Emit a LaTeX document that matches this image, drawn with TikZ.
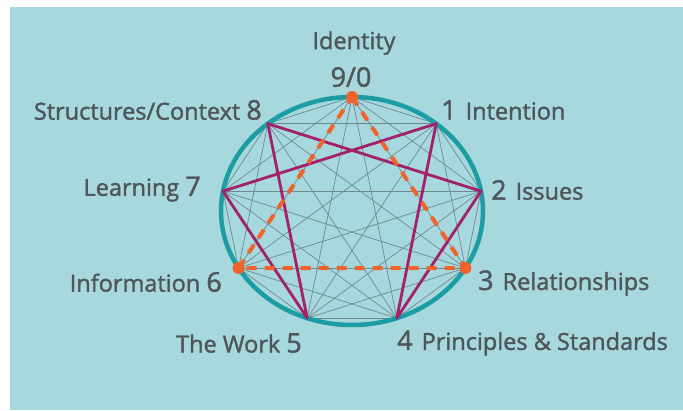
\documentclass[tikz,border=0pt]{standalone}
\usepackage{fontspec}
\setmainfont{Open Sans}
\newfontfamily\lblfont{Open Sans}[FakeBold=1.5]
\usetikzlibrary{calc}

\definecolor{bgteal}{HTML}{A7D8DD}
\definecolor{ringteal}{HTML}{1C9CA3}
\definecolor{hexad}{HTML}{A3206B}
\definecolor{triorange}{HTML}{F0642A}
\definecolor{chordgray}{HTML}{6A8A90}
\definecolor{labelgray}{HTML}{4F5659}

\newcommand{\numsize}{\fontsize{27}{29}\selectfont}

\tikzset{
  lbl/.style={text=labelgray, font=\lblfont\fontsize{23.5}{27}\selectfont, inner sep=0pt},
  chord/.style={chordgray, line width=0.7pt},
  ring/.style={ringteal, line width=4.5pt},
  hexline/.style={hexad, line width=2.8pt, line join=round},
  triline/.style={triorange, line width=4pt, dash pattern=on 10pt off 8pt},
  dot/.style={circle, fill=triorange, inner sep=0pt, minimum size=12pt}
}

\begin{document}
\begin{tikzpicture}[x=1pt, y=-1pt]
\useasboundingbox (0,0) rectangle (683,410);
\fill[bgteal] (10,7) rectangle (683,410);

% points of the circle, 0 at the top, clockwise
\coordinate (c) at (352,211);
\foreach \i in {0,...,8}
  \coordinate (p\i) at ({352+131*sin(40*\i)}, {211-114*cos(40*\i)});

% every chord
\foreach \i in {0,...,7} {
  \pgfmathtruncatemacro\k{\i+1}
  \foreach \j in {\k,...,8}
    \draw[chord] (p\i) -- (p\j);
}

\draw[ring] (c) ellipse (131 and 114);

% hexad 1-4-2-8-5-7
\draw[hexline] (p1) -- (p4) -- (p2) -- (p8) -- (p5) -- (p7) -- cycle;

% triangle 9-3-6
\draw[triline] (p0) -- (p3) -- (p6) -- cycle;
\node[dot] (d0) at (p0) {};
\node[dot] (d3) at (p3) {};
\node[dot] (d6) at (p6) {};

% labels
\node[lbl] (l9) at (354,43) {Identity};
\node[lbl] (n9) at (351,77) {\numsize 9/0};
\node[lbl, anchor=east] (l8) at (262,110) {Structures/Context {\numsize 8}};
\node[lbl, anchor=west] (l1) at (441,110) {{\numsize 1}\hspace{9pt}Intention};
\node[lbl, anchor=east] (l7) at (201,189) {Learning {\numsize 7}};
\node[lbl, anchor=west] (l2) at (491,190) {{\numsize 2}\hspace{9pt}Issues};
\node[lbl, anchor=east] (l6) at (222,282) {Information {\numsize 6}};
\node[lbl, anchor=west] (l3) at (478,283) {{\numsize 3}\hspace{9pt}Relationships};
\node[lbl, anchor=east] (l5) at (302,343) {The Work {\numsize 5}};
\node[lbl, anchor=west] (l4) at (397,343) {{\numsize 4}\hspace{9pt}Principles \& Standards};
\end{tikzpicture}
\end{document}
